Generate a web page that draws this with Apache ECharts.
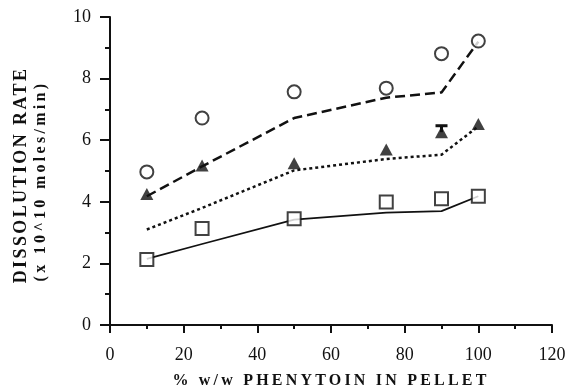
<!DOCTYPE html>
<html>
<head>
<meta charset="utf-8">
<script src="https://cdn.jsdelivr.net/npm/echarts@6/dist/echarts.min.js"></script>
<style>
html,body{margin:0;padding:0;background:#fff;}
#chart{width:570px;height:390px;}
</style>
</head>
<body>
<div id="chart"></div>
<script>
// ---- data ----
var xValues = [10, 25, 50, 75, 90, 100];
var circleValues = [4.97, 6.72, 7.57, 7.69, 8.81, 9.22];
var triangleValues = [4.25, 5.18, 5.25, 5.70, 6.26, 6.53];
var squareValues = [2.13, 3.13, 3.45, 3.99, 4.10, 4.18];
var dashedFit = [4.18, 5.15, 6.72, 7.38, 7.55, 9.2];
var dottedFit = [3.1, 3.8, 5.02, 5.39, 5.53, 6.45];
var solidFit = [2.15, 2.63, 3.42, 3.65, 3.70, 4.18];
var errorBarX = [90];
var errorBarLow = [6.26];
var errorBarHigh = [6.47];
var xTicks = [0, 20, 40, 60, 80, 100, 120];
var yTicks = [0, 2, 4, 6, 8, 10];
var xTitle = '% w/w PHENYTOIN IN PELLET';
var yTitle1 = 'DISSOLUTION RATE';
var yTitle2 = '(x 10^10 moles/min)';

// letter spacing for the spaced-out titles
var spacing = {};
spacing[xTitle] = '3.2px';
spacing[yTitle1] = '2.4px';
spacing[yTitle2] = '3.3px';
(function(){
  var proto = CanvasRenderingContext2D.prototype;
  var orig = proto.fillText;
  proto.fillText = function(t, x, y, m){
    if ('letterSpacing' in this) {
      this.letterSpacing = spacing[t] || '0px';
    }
    return m === undefined ? orig.call(this, t, x, y) : orig.call(this, t, x, y, m);
  };
})();

function pairs(ys){ return xValues.map(function(x, i){ return [x, ys[i]]; }); }

var ink = '#111';
var serif = '"Liberation Serif", "Times New Roman", serif';

var chart = echarts.init(document.getElementById('chart'), null, {renderer: 'canvas'});
chart.setOption({
  animation: false,
  backgroundColor: '#fff',
  grid: {left: 110, right: 18, top: 17, bottom: 65, containLabel: false, outerBoundsMode: 'none'},
  xAxis: {
    type: 'value', min: xTicks[0], max: xTicks[xTicks.length - 1], interval: 20,
    splitLine: {show: false},
    axisLine: {lineStyle: {color: ink, width: 2}},
    axisTick: {length: 8, lineStyle: {color: ink, width: 2}},
    minorTick: {show: true, splitNumber: 2, length: 4, lineStyle: {color: ink, width: 2}},
    axisLabel: {color: ink, fontFamily: serif, fontSize: 18, margin: 21},
    name: xTitle, nameLocation: 'middle', nameGap: 48,
    nameTextStyle: {color: ink, fontFamily: serif, fontSize: 16, fontWeight: 'bold'}
  },
  yAxis: {
    type: 'value', min: yTicks[0], max: yTicks[yTicks.length - 1], interval: 2,
    splitLine: {show: false},
    axisLine: {lineStyle: {color: ink, width: 2}},
    axisTick: {length: 10, lineStyle: {color: ink, width: 2}},
    minorTick: {show: true, splitNumber: 2, length: 5, lineStyle: {color: ink, width: 2}},
    axisLabel: {color: ink, fontFamily: serif, fontSize: 18, margin: 19}
  },
  graphic: [
    {type: 'text', x: 21, y: 175, rotation: Math.PI / 2,
     style: {text: yTitle1, fill: ink, font: 'bold 18px ' + serif, align: 'center', verticalAlign: 'middle', textAlign: 'center', textVerticalAlign: 'middle'}},
    {type: 'text', x: 41, y: 181, rotation: Math.PI / 2,
     style: {text: yTitle2, fill: ink, font: 'bold 16px ' + serif, align: 'center', verticalAlign: 'middle', textAlign: 'center', textVerticalAlign: 'middle'}}
  ],
  series: [
    {type: 'line', data: pairs(dashedFit), showSymbol: false, silent: true,
     lineStyle: {color: ink, width: 2.5, type: [10, 5]}},
    {type: 'line', data: pairs(dottedFit), showSymbol: false, silent: true,
     lineStyle: {color: ink, width: 2.5, type: [3, 3]}},
    {type: 'line', data: pairs(solidFit), showSymbol: false, silent: true,
     lineStyle: {color: ink, width: 1.8}},
    {type: 'custom', silent: true, z: 3,
     data: errorBarX.map(function(x, i){ return [x, errorBarLow[i], errorBarHigh[i]]; }),
     renderItem: function(params, api){
       var lo = api.coord([api.value(0), api.value(1)]);
       var hi = api.coord([api.value(0), api.value(2)]);
       return {type: 'group', children: [
         {type: 'line', shape: {x1: lo[0], y1: lo[1], x2: hi[0], y2: hi[1]}, style: {stroke: ink, lineWidth: 3}},
         {type: 'line', shape: {x1: hi[0] - 6, y1: hi[1], x2: hi[0] + 6, y2: hi[1]}, style: {stroke: ink, lineWidth: 3}}
       ]};
     }},
    {type: 'scatter', data: pairs(circleValues), symbol: 'circle', symbolSize: 13, z: 4,
     itemStyle: {color: '#fff', borderColor: ink, borderWidth: 2}},
    {type: 'scatter', data: pairs(triangleValues), symbol: 'triangle', symbolSize: [13, 12], z: 4,
     itemStyle: {color: ink}},
    {type: 'scatter', data: pairs(squareValues), symbol: 'rect', symbolSize: 13, z: 4,
     itemStyle: {color: '#fff', borderColor: ink, borderWidth: 2}}
  ]
});
</script>
</body>
</html>
